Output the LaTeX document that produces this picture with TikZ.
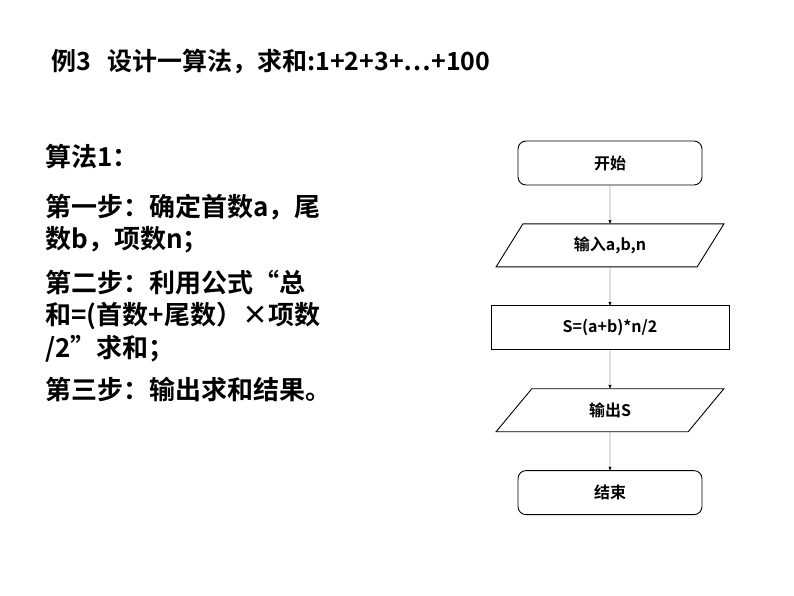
\documentclass[tikz,border=0pt]{standalone}
\usepackage{fontspec}
\setmainfont{Noto Sans CJK SC}[BoldFont={Noto Sans CJK SC Bold}]
\usetikzlibrary{positioning,shapes.geometric,arrows}
\begin{document}
\begin{tikzpicture}[%
	x=1pt, y=-1pt,
	->, >=stealth', shorten >=0pt,
	node distance=38pt, align=center,
	box/.style={draw, line width=0.9pt, minimum width=184pt, minimum height=44pt, font=\bfseries\fontsize{16}{19}\selectfont},
	iobox/.style={draw, line width=0.9pt, trapezium, trapezium left angle=63, trapezium right angle=117,
		trapezium stretches=true, minimum width=228pt, minimum height=43pt, font=\bfseries\fontsize{16}{19}\selectfont},
	line/.style={anchor=west, font=\bfseries\fontsize{26}{30}\selectfont}
	]
	\useasboundingbox (0,0) rectangle (794,596);
	\node[line, font=\bfseries\fontsize{25}{30}\selectfont] (title) at (48,62) {例3\hspace{16pt}设计一算法，求和:1+2+3+…+100};
	
	\node[line] (s0) at (42,157) {算法1：};
	\node[line] (s1) at (42,207) {第一步：确定首数a，尾};
	\node[line] (s2) at (42,240) {数b，项数n；};
	\node[line] (s3) at (42,283) {第二步：利用公式“总};
	\node[line] (s4) at (42,316) {和=(首数+尾数）×项数};
	\node[line] (s5) at (42,349) {/2”求和；};
	\node[line] (s6) at (42,390) {第三步：输出求和结果。};
	
	\node[box, rounded corners=8pt] (start) at (610,163) {开始};
	\node[iobox] (in) [below=of start] {输入a,b,n};
	\node[box, minimum width=238pt] (calc) [below=of in] {S=(a+b)*n/2};
	\node[iobox] (out) [below=of calc] {输出S};
	\node[box, rounded corners=8pt] (stop) [below=of out] {结束};
	
	\path (start) edge (in)
	(in) edge (calc)
	(calc) edge (out)
	(out) edge (stop);
\end{tikzpicture}
\end{document}
